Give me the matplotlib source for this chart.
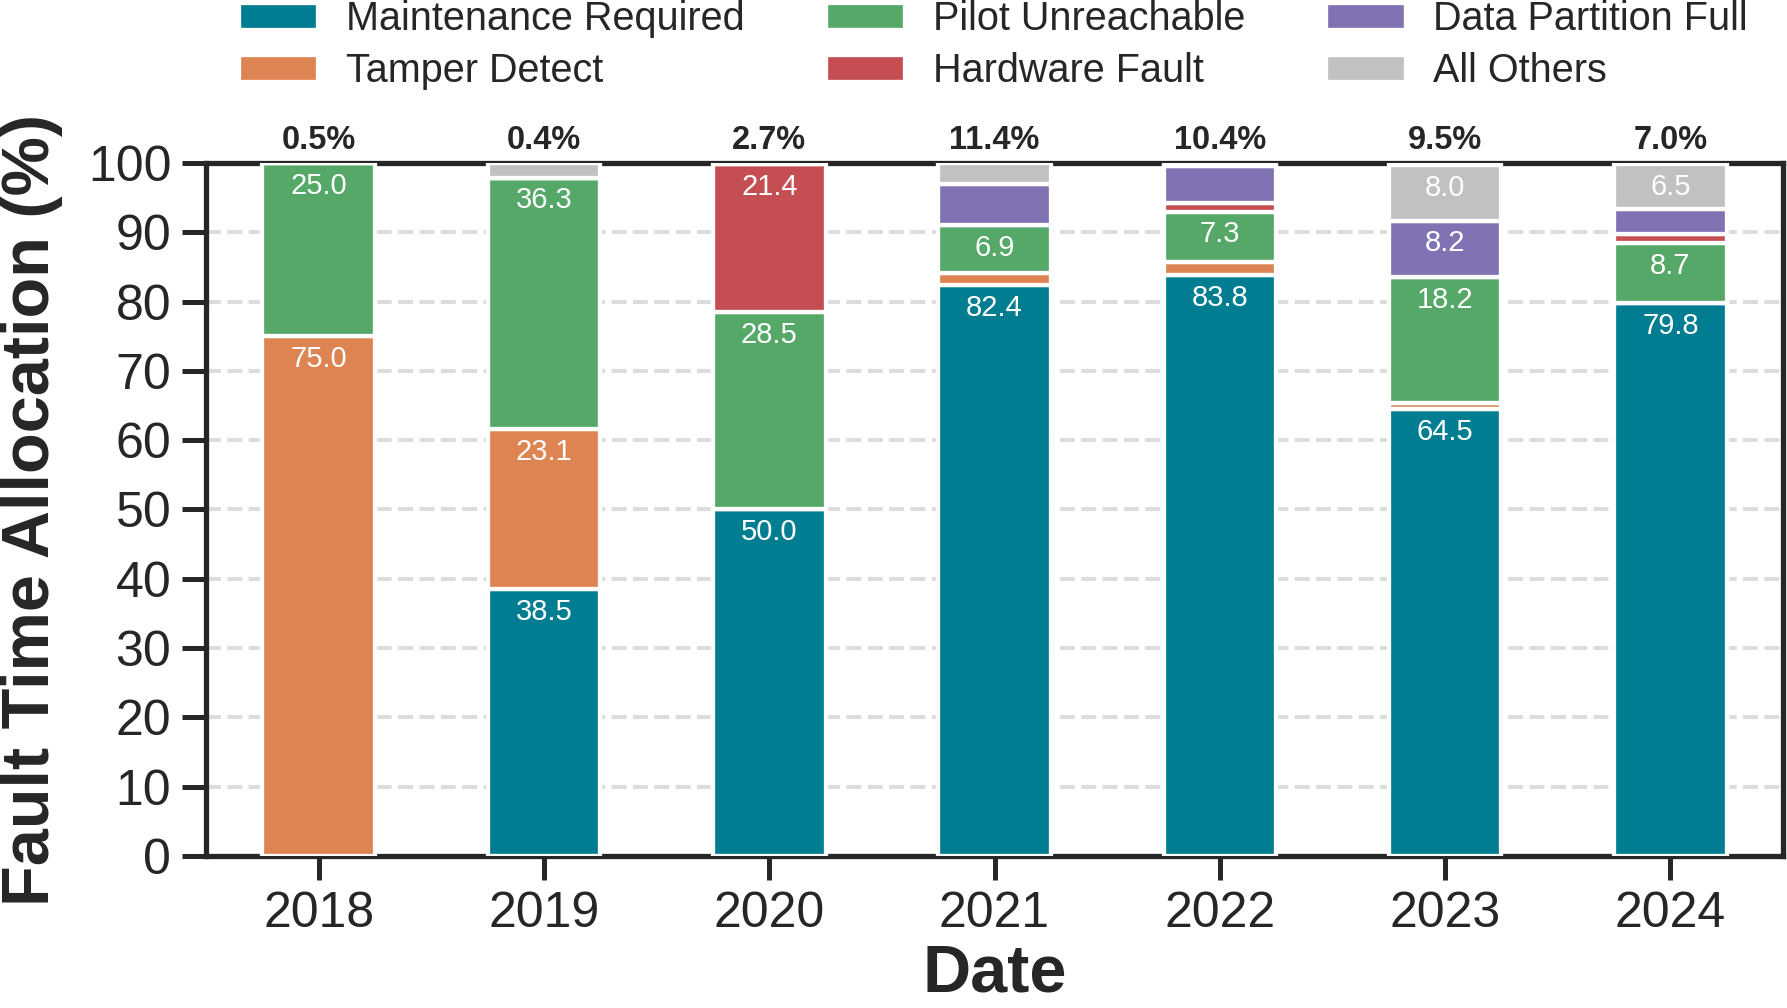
import numpy as np
import matplotlib
matplotlib.use("Agg")
import matplotlib.pyplot as plt

# data
years = ["2018", "2019", "2020", "2021", "2022", "2023", "2024"]
maintenance = [0.0, 38.5, 50.0, 82.4, 83.8, 64.5, 79.8]
tamper = [75.0, 23.1, 0.0, 1.7, 1.9, 0.8, 0.0]
pilot = [25.0, 36.3, 28.5, 6.9, 7.3, 18.2, 8.7]
hardware = [0.0, 0.0, 21.4, 0.0, 1.2, 0.0, 1.3]
partition = [0.0, 0.0, 0.0, 6.0, 5.3, 8.2, 3.6]
others = [0.0, 2.1, 0.0, 3.0, 0.3, 8.0, 6.5]
fault_pct = [0.5, 0.4, 2.7, 11.4, 10.4, 9.5, 7.0]

series = [
    ("Maintenance Required", maintenance, "#017d91"),
    ("Tamper Detect", tamper, "#dd8452"),
    ("Pilot Unreachable", pilot, "#55a868"),
    ("Hardware Fault", hardware, "#c44e52"),
    ("Data Partition Full", partition, "#8172b3"),
    ("All Others", others, "#c0c1c2"),
]

plt.rcParams["font.family"] = ["Liberation Sans", "DejaVu Sans"]
plt.rcParams["text.color"] = "#262626"
plt.rcParams["axes.labelcolor"] = "#262626"
plt.rcParams["xtick.color"] = "#262626"
plt.rcParams["ytick.color"] = "#262626"

fig = plt.figure(figsize=(17.87, 10.08), dpi=100)
ax = fig.add_axes([0.1153, 0.1508, 0.8825, 0.6875])

x = np.arange(len(years))
bar_w = 0.5
bottom = np.zeros(len(years))
handles = []
for name, vals, color in series:
    vals = np.array(vals)
    bars = ax.bar(x, vals, bar_w, bottom=bottom, color=color, edgecolor="white",
                  linewidth=3.1, label=name, zorder=3)
    handles.append(bars)
    for i, v in enumerate(vals):
        if v > 6.2:
            ax.text(x[i], bottom[i] + v - 3.3, f"{v:.1f}", ha="center", va="center",
                    color="white", fontsize=21, zorder=4)
    bottom += vals

# overall fault share above each bar
for i, p in enumerate(fault_pct):
    ax.text(x[i], 103.2, f"{p:.1f}%", ha="center", va="center", fontsize=23.5,
            fontweight="bold", clip_on=False)

ax.set_xlim(-0.5, 6.5)
ax.set_ylim(0, 100)
ax.set_xticks(x)
ax.set_xticklabels(years)
ax.set_yticks(np.arange(0, 101, 10))
ax.yaxis.grid(True, color="#dcdcdc", linestyle="--", linewidth=2.9, zorder=0)
ax.set_axisbelow(True)
ax.tick_params(axis="both", labelsize=36, length=17, width=3.6, pad=8)
for sp in ax.spines.values():
    sp.set_linewidth(3.8)
    sp.set_color("#262626")

ax.set_xlabel("Date", fontsize=48, fontweight="bold", labelpad=5)
ax.set_ylabel("Fault Time Allocation (%)", fontsize=48, fontweight="bold", labelpad=18)

fig.legend(handles=handles, labels=[s[0] for s in series], ncol=3,
           loc="center", bbox_to_anchor=(0.556, 0.955), frameon=False,
           fontsize=28.5, handlelength=2.0, handleheight=0.7, handletextpad=0.7,
           columnspacing=2.05, labelspacing=0.36)

fig.savefig("out.png", dpi=100)
